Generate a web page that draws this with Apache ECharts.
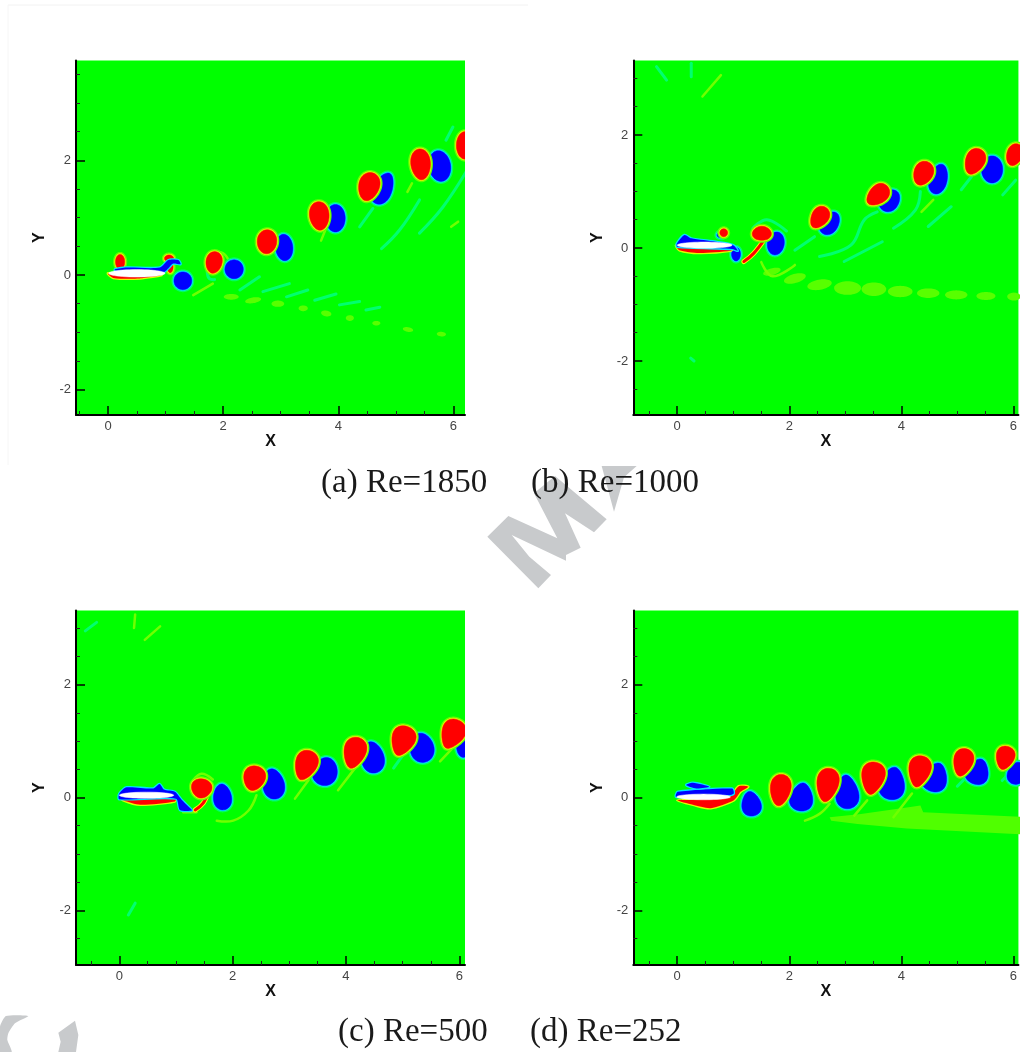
<!DOCTYPE html>
<html><head><meta charset="utf-8">
<style>html,body{margin:0;padding:0;background:#fff;overflow:hidden}#c{width:1020px;height:1052px;filter:blur(.45px)}</style>
<script src="https://cdn.jsdelivr.net/npm/echarts@6/dist/echarts.min.js"></script>
</head><body><div id="c"></div>
<script>
// ---- Data (all in plot units). Vortex rows: x, y, semi-width, semi-height, tilt deg, taper
const captions = ['(a) Re=1850','(b) Re=1000','(c) Re=500','(d) Re=252'];
const xMajor = [0,2,4,6];
const yMajor = [-2,0,2];
const xMinor = [-0.5,0.5,1,1.5,2.5,3,3.5,4.5,5,5.5];
const yMinor = [-2.5,-1.5,-1,-0.5,0.5,1,1.5,2.5,3,3.5];
const xRanges = [[-0.556,6.2],[-0.784,6.09],[-0.764,6.1],[-0.784,6.09]];
const yRanges = [[-2.44,3.74],[-2.956,3.318],[-2.965,3.31],[-2.965,3.31]];

const redA = [[1.84,.22,.14,.19,-10,.1],[2.76,.58,.17,.21,-5,.05],[3.67,1.03,.17,.25,5,.1],[4.53,1.54,.18,.25,-15,.15],[5.43,1.93,.17,.27,5,.1],[6.2,2.26,.15,.24,0,0],[.21,.23,.08,.13,0,0],[1.06,.29,.08,.06,0,0],[1.08,.14,.05,.1,0,0]];
const blueA = [[1.30,-.10,.155,.155,0,0],[2.19,.10,.16,.165,0,0],[3.06,.48,.15,.23,5,0],[3.95,.99,.17,.24,0,0],[4.77,1.51,.17,.29,-25,-.2],[5.76,1.90,.19,.27,10,0],[.22,.23,.05,.06,0,0]];
const paleBlobA = [[2.14,-.38,.13,.05,0,0],[2.52,-.44,.14,.05,10,0],[2.95,-.5,.11,.055,0,0],[3.39,-.58,.08,.05,0,0],[3.79,-.67,.09,.05,-10,0],[4.2,-.75,.07,.05,0,0],[4.66,-.84,.07,.04,0,0],[5.21,-.95,.09,.04,-10,0],[5.79,-1.03,.08,.04,-5,0]];
const cyanLinesA = [[[2.69,-.29],[3.15,-.15]],[[3.10,-.38],[3.47,-.26]],[[3.59,-.44],[3.96,-.33]],[[4.02,-.52],[4.37,-.46]],[[4.48,-.61],[4.72,-.56]],[[4.37,.84],[4.60,1.16]],[[4.75,.46],[5.06,.78],[5.41,1.31]],[[5.41,.73],[5.82,1.19],[6.25,1.85]],[[2.29,-.26],[2.63,-.03]],[[5.87,2.35],[5.99,2.58]],[[1.32,.02],[1.42,-.08]],[[1.72,.15],[1.75,-.05],[1.85,-.08]]];
const paleLinesA = [[[1.48,-.35],[1.82,-.15]],[[5.96,.84],[6.08,.93]],[[1.85,.4],[2.0,.38],[2.1,.25]],[[5.2,1.45],[5.28,1.6]],[[3.7,.6],[3.8,.85]]];
const blueBodyA = [[[.12,.1],[.32,.13],[.9,.13],[1.05,.26],[1.22,.26],[1.26,.19],[1.13,.2],[1.05,.12],[.93,.03],[.12,.08]]];
const redBodyA = [[[0,.03],[.09,-.05],[.55,-.06],[.93,0],[.5,.03]]];
const foilA = [[.5,.03,.49,.065,0,0]];

const redB = [[1.51,.26,.17,.125,0,-.1],[2.54,.54,.15,.21,-35,.2],[3.58,.94,.16,.23,-50,.2],[4.39,1.32,.17,.22,-25,.15],[5.31,1.53,.17,.24,-25,.2],[6.02,1.65,.14,.2,-20,.1],[.83,.27,.07,.07,0,0]];
const blueB = [[1.76,.08,.15,.205,-10,0],[2.72,.44,.16,.22,-35,-.1],[3.79,.84,.17,.21,-40,-.1],[4.66,1.22,.16,.27,-15,-.1],[5.62,1.39,.19,.24,0,0],[.78,.23,.07,.05,0,0],[1.05,-.11,.08,.12,0,0]];
const paleBlobB = [[1.69,-.42,.16,.06,15,0],[2.1,-.54,.2,.08,15,0],[2.54,-.65,.22,.09,10,0],[3.04,-.71,.24,.12,0,0],[3.51,-.73,.22,.12,0,0],[3.98,-.77,.22,.1,0,0],[4.48,-.8,.2,.085,0,0],[4.98,-.83,.2,.08,0,0],[5.51,-.85,.17,.07,0,0],[6.01,-.86,.12,.07,0,0]];
const cyanLinesB = [[[2.1,-.04],[2.45,.2]],[[2.54,-.15],[3.1,.05],[3.34,.5],[3.57,.64]],[[2.98,-.24],[3.66,.11]],[[3.86,.35],[4.25,.67],[4.34,1.0]],[[4.48,.38],[4.89,.73]],[[5.07,1.03],[5.25,1.26]],[[5.81,.94],[6.04,1.2]],[[.25,3.27],[.25,3.03]],[[-.37,3.21],[-.19,2.97]],[[1.35,.35],[1.6,.5],[1.95,.3]],[[.24,-1.95],[.3,-2.0]]];
const paleLinesB = [[[.45,2.68],[.78,3.06]],[[4.36,.64],[4.57,.85]],[[1.5,-.25],[1.7,-.5],[2.1,-.3]]];
const blueBodyB = [[[-.006,.08],[.13,.23],[.25,.17],[.69,.11],[1,.05],[1.08,-.05],[.98,-.02],[0,.02]]];
const redBodyB = [[[-.018,.05],[.04,-.04],[.39,-.09],[.95,-.05],[1.01,.01],[.5,.03]]];
const redStrandB = [[[1.19,-.24],[1.36,-.10],[1.57,.17]]];
const foilB = [[.49,.05,.49,.055,0,0]];

const redC = [[1.45,.16,.18,.17,-10,.15],[2.38,.34,.19,.22,-15,.2],[3.29,.57,.19,.27,-20,.3],[4.15,.79,.19,.28,-15,.3],[5.0,1.0,.2,.27,-20,.35],[5.88,1.12,.2,.27,-25,.35]];
const blueC = [[1.82,.01,.16,.23,5,-.15],[2.72,.24,.19,.27,10,-.15],[3.63,.46,.22,.25,-15,-.1],[4.47,.71,.2,.28,10,-.15],[5.34,.88,.21,.26,10,-.1],[6.07,.91,.12,.2,0,0]];
const paleLinesC = [[[1.72,-.41],[2.01,-.41],[2.28,-.23],[2.42,.04]],[[1.13,-.26],[1.36,-.26]],[[3.1,-.02],[3.34,.31]],[[3.86,.13],[4.16,.52]],[[.45,2.79],[.72,3.03]],[[.26,3.0],[.28,3.24]],[[1.3,.3],[1.45,.42],[1.65,.32]],[[5.66,.64],[5.86,.85]]];
const cyanLinesC = [[[4.84,.52],[5.01,.76]],[[.16,-2.08],[.28,-1.87]],[[-.6,2.95],[-.4,3.1]]];
const blueBodyC = [[[0,.07],[.13,.18],[.6,.16],[.71,.24],[.79,.14],[.98,.1],[1.1,-.04],[1.22,-.16],[1.28,-.23],[1.07,-.22],[1,-.02],[0,-.03]]];
const redBodyC = [[[0,.02],[.07,-.05],[.37,-.13],[.98,-.07],[1,0],[.5,.03]]];
const redStrandC = [[[1.34,-.22],[1.48,-.1],[1.57,.1]]];
const foilC = [[.48,.04,.48,.055,0,0]];

const redD = [[1.84,.13,.18,.28,-8,.25],[2.68,.22,.19,.3,-10,.3],[3.49,.34,.2,.29,-10,.35],[4.32,.46,.19,.28,-12,.35],[5.10,.62,.17,.25,-15,.3],[5.85,.70,.16,.21,-15,.3]];
const blueD = [[1.32,-.11,.17,.22,10,-.25],[2.22,.01,.2,.25,-8,-.3],[3.03,.10,.2,.3,5,-.3],[3.84,.25,.22,.29,-10,-.3],[4.60,.36,.22,.26,-20,-.3],[5.36,.46,.2,.23,-20,-.3],[6.05,.43,.15,.2,-15,-.2]];
const paleLinesD = [[[2.28,-.41],[2.54,-.29],[2.72,-.11]],[[3.16,-.32],[3.39,-.05]],[[3.86,-.35],[4.19,.07]]];
const cyanLinesD = [[[5.0,.2],[5.2,.4]],[[5.8,.3],[6.0,.5]]];
const wedgeD = [[[2.72,-.35],[3.28,-.29],[4.16,-.17],[4.34,-.14],[4.39,-.26],[6.3,-.35],[6.3,-.66],[4.1,-.55],[3.22,-.47],[2.75,-.41]]];
const blueBodyD = [[[-.02,.01],[.01,.1],[.98,.16],[1.01,.07],[.92,.04]],[[.16,.22],[.28,.26],[.57,.19],[.34,.16]]];
const redBodyD = [[[0,-.05],[.28,-.13],[.6,-.19],[1.01,-.05],[1.13,.1],[1.27,.19],[1.1,.2],[.95,.04],[.28,-.04]]];
const foilD = [[.47,.01,.48,.05,0,0]];

const panels = [
 {red:redA,blue:blueA,blob:paleBlobA,cyan:cyanLinesA,pale:paleLinesA,blueBody:blueBodyA,redBody:redBodyA,strand:[],wedge:[],foil:foilA},
 {red:redB,blue:blueB,blob:paleBlobB,cyan:cyanLinesB,pale:paleLinesB,blueBody:blueBodyB,redBody:redBodyB,strand:redStrandB,wedge:[],foil:foilB},
 {red:redC,blue:blueC,blob:[],cyan:cyanLinesC,pale:paleLinesC,blueBody:blueBodyC,redBody:redBodyC,strand:redStrandC,wedge:[],foil:foilC},
 {red:redD,blue:blueD,blob:[],cyan:cyanLinesD,pale:paleLinesD,blueBody:blueBodyD,redBody:redBodyD,strand:[],wedge:wedgeD,foil:foilD}
];

// ---- Layout / styling
const gridBoxes = [
 {left:76,top:60.5,width:389,height:354.5},
 {left:633.3,top:60.5,width:389.4,height:354.5},
 {left:76,top:610.5,width:389,height:354.5},
 {left:633.3,top:610.5,width:389.4,height:354.5}
];
const captionPos = [[321,483],[531,483],[338,1032],[530,1032]];
const RED='#ff0000', BLUE='#0000ff';

function outline(v){
  const [x,y,rx,ry,deg,t]=v, a=deg*Math.PI/180, c=Math.cos(a), s=Math.sin(a), out=[];
  for(let k=0;k<48;k++){
    const th=k/48*2*Math.PI;
    const u=rx*Math.cos(th)*(1+t*Math.sin(th)), w=ry*Math.sin(th);
    out.push([x+u*c-w*s, y+u*s+w*c]);
  }
  return out;
}
function custom(i,list,draw,z){
  return {type:'custom',coordinateSystem:'cartesian2d',xAxisIndex:i*2,yAxisIndex:i*2,clip:true,silent:true,z:z||2,
    data:list.map((_,k)=>[k,0]),encode:{x:0,y:1},
    renderItem:(params,api)=>draw(list[params.dataIndex],api)};
}
const poly=(pts,style,smooth)=>({type:'polygon',shape:{points:pts,smooth:smooth||0},style});
const line=(pts,style,smooth)=>({type:'polyline',shape:{points:pts,smooth:smooth||0},style});

function vortex(fill,outer,inner){
  return (v,api)=>{
    const p=outline(v).map(q=>api.coord(q));
    return {type:'group',children:[
      poly(p,{fill:'none',stroke:outer,lineWidth:5,lineJoin:'round'}),
      poly(p,{fill:'none',stroke:inner,lineWidth:2.4,lineJoin:'round'}),
      poly(p,{fill:fill,stroke:fill,lineWidth:.5})
    ]};
  };
}
const blobDraw=(v,api)=>poly(outline(v).map(q=>api.coord(q)),{fill:'#58ff00'});
const wedgeDraw=(pts,api)=>poly(pts.map(q=>api.coord(q)),{fill:'#50ff00'});
const strokeDraw=(color,w)=>(pts,api)=>line(pts.map(q=>api.coord(q)),{fill:'none',stroke:color,lineWidth:w,lineCap:'round'},.4);
const strandDraw=(pts,api)=>{
  const p=pts.map(q=>api.coord(q));
  return {type:'group',children:[
    line(p,{fill:'none',stroke:'#ffff00',lineWidth:5,lineCap:'round'},.4),
    line(p,{fill:'none',stroke:RED,lineWidth:3,lineCap:'round'},.4)]};
};
const bodyDraw=(fill,edge)=>(pts,api)=>{
  const p=pts.map(q=>api.coord(q));
  return {type:'group',children:[
    poly(p,{fill:'none',stroke:edge,lineWidth:2.5,lineJoin:'round'},.25),
    poly(p,{fill:fill},.25)]};
};
const foilDraw=(v,api)=>{
  const p=outline(v).map(q=>api.coord(q));
  return poly(p,{fill:'#ffffff',stroke:'#ffffff',lineWidth:.5});
};

const series=[];
panels.forEach((P,i)=>{
  series.push(custom(i,P.wedge,wedgeDraw,2));
  series.push(custom(i,P.blob,blobDraw,2));
  series.push(custom(i,P.cyan,strokeDraw('#00ff70',3),2));
  series.push(custom(i,P.pale,strokeDraw('#70ff00',2.5),2));
  series.push(custom(i,P.strand,strandDraw,3));
  series.push(custom(i,P.blue,vortex(BLUE,'#00ff60','#00e4ff'),3));
  series.push(custom(i,P.red,vortex(RED,'#60ff00','#e0ff00'),3));
  series.push(custom(i,P.redBody,bodyDraw(RED,'#e0ff00'),4));
  series.push(custom(i,P.blueBody,bodyDraw(BLUE,'#00e4ff'),4));
  series.push(custom(i,P.foil,foilDraw,5));
});

const labelStyle={color:'#444',fontSize:13,fontFamily:'Liberation Sans'};
const nameStyle={color:'#111',fontSize:16,fontWeight:'bold',fontFamily:'Liberation Sans'};
const axisLine={show:true,onZero:false,lineStyle:{color:'#000',width:2}};
const xAxes=[], yAxes=[];
panels.forEach((P,i)=>{
  const xr=xRanges[i], yr=yRanges[i];
  xAxes.push({type:'value',gridIndex:i,min:xr[0],max:xr[1],position:'bottom',splitLine:{show:false},z:6,
    axisLine,axisTick:{show:true,inside:true,length:9,lineStyle:{color:'#000',width:1.5},customValues:xMajor},
    axisLabel:{show:true,margin:5,customValues:xMajor,...labelStyle,formatter:v=>String(v)},
    name:'X',nameLocation:'middle',nameGap:19,nameTextStyle:nameStyle});
  xAxes.push({type:'value',gridIndex:i,min:xr[0],max:xr[1],position:'bottom',splitLine:{show:false},z:6,
    axisLine:{show:false,onZero:false},axisTick:{show:true,inside:true,length:4,lineStyle:{color:'#222',width:1},customValues:xMinor},
    axisLabel:{show:false}});
  yAxes.push({type:'value',gridIndex:i,min:yr[0],max:yr[1],position:'left',splitLine:{show:false},z:6,
    axisLine,axisTick:{show:true,inside:true,length:9,lineStyle:{color:'#000',width:1.5},customValues:yMajor},
    axisLabel:{show:true,margin:5,customValues:yMajor,...labelStyle,formatter:v=>String(v)},
    name:'Y',nameLocation:'middle',nameGap:28,nameRotate:90,nameTextStyle:nameStyle});
  yAxes.push({type:'value',gridIndex:i,min:yr[0],max:yr[1],position:'left',splitLine:{show:false},z:6,
    axisLine:{show:false,onZero:false},axisTick:{show:true,inside:true,length:4,lineStyle:{color:'#222',width:1},customValues:yMinor},
    axisLabel:{show:false}});
});
panels.forEach((P,i)=>series.push({type:'custom',coordinateSystem:'cartesian2d',xAxisIndex:i*2+1,yAxisIndex:i*2+1,silent:true,data:[],renderItem:()=>null}));

const WM='#c8cacc';
const wmMain=[[115,168],[262,235],[192,100],[255,48],[410,178],[372,217],[285,160],[332,263],[288,285],[288,302],[125,225],[178,290],[243,345],[205,385],[52,230]];
const wmTri=[[395,18],[500,18],[462,52],[432,155]];
const wmC1=[[0,110],[18,78],[85,78],[45,100],[25,130],[22,150],[35,186],[0,186]];
const wmC2=[[175,128],[225,92],[235,135],[228,186],[175,186],[182,155]];
const graphic=[
  {type:'line',shape:{x1:8,y1:5,x2:528,y2:5},style:{stroke:'#f2f2f2',lineWidth:1},z:0},
  {type:'line',shape:{x1:8,y1:5,x2:8,y2:465},style:{stroke:'#f6f6f6',lineWidth:1},z:0},
  {type:'polygon',x:470,y:460,scaleX:1/3,scaleY:1/3,shape:{points:wmMain},style:{fill:WM},z:0},
  {type:'polygon',x:470,y:460,scaleX:1/3,scaleY:1/3,shape:{points:wmTri},style:{fill:WM},z:0},
  {type:'polygon',x:0,y:990,scaleX:1/3,scaleY:1/3,shape:{points:wmC1,smooth:.2},style:{fill:WM},z:0},
  {type:'polygon',x:0,y:990,scaleX:1/3,scaleY:1/3,shape:{points:wmC2},style:{fill:WM},z:0},
  ...captions.map((t,i)=>({type:'text',x:captionPos[i][0],y:captionPos[i][1],z:10,
    style:{text:t,fill:'#1a1a1a',font:'33px "Liberation Serif"',textVerticalAlign:'middle',textBaseline:'middle'}}))
];

const chart=echarts.init(document.getElementById('c'),null,{renderer:'canvas'});
chart.setOption({animation:false,backgroundColor:'#fff',
  grid:gridBoxes.map(b=>({...b,show:true,backgroundColor:'#00ff00',borderWidth:0,containLabel:false})),
  xAxis:xAxes,yAxis:yAxes,series,graphic});
</script></body></html>
